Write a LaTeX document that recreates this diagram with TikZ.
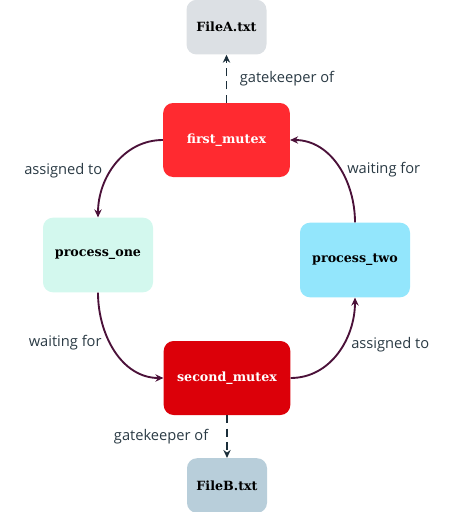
\documentclass[tikz,border=0pt]{standalone}
\usepackage{fontspec}
\setmainfont{Open Sans}
\newfontfamily\slabfont{DejaVu Serif}
\usetikzlibrary{arrows.meta, positioning}
\definecolor{mutexred}{HTML}{FF2A30}
\definecolor{mutexdark}{HTML}{DC0009}
\definecolor{procmint}{HTML}{D3F8EE}
\definecolor{procsky}{HTML}{93E6FC}
\definecolor{filegray}{HTML}{DCE0E4}
\definecolor{fileblue}{HTML}{B8CEDA}
\definecolor{edgeplum}{HTML}{4B1139}
\definecolor{gateslate}{HTML}{1B2E3A}
\definecolor{labelink}{HTML}{2A3A44}
\tikzset{
  every node/.style={font=\fontsize{11}{13}\selectfont, text=labelink},
  box/.style={
    rounded corners=7.5pt, inner sep=2pt, text=black,
    font=\slabfont\bfseries\fontsize{9.5}{11}\selectfont
  },
  mutex/.style={box, minimum width=95pt, minimum height=55.5pt, text=white},
  proc/.style={box, minimum width=82.5pt, minimum height=56pt},
  file/.style={box, minimum width=60pt, minimum height=41pt},
  arr/.style={-{Stealth[length=6pt,width=5.5pt]}, line width=1.4pt, edgeplum},
  gate/.style={-{Stealth[length=6pt,width=5.5pt]}, line width=1.4pt, gateslate,
    dash pattern=on 6pt off 4pt},
}

\begin{document}
\begin{tikzpicture}[x=0.75pt, y=0.75pt]
        \useasboundingbox (0,0) rectangle (454,-512);
        % nodes
        \node[mutex, fill=mutexred] (first) at (226.5,-140) {first\_mutex};
        \node[mutex, fill=mutexdark] (second) at (227,-378) {second\_mutex};
        \node[proc, fill=procmint] (one) at (98,-255) {process\_one};
        \node[proc, fill=procsky] (two) at (355,-260) {process\_two};
        \node[file, fill=filegray, above=36pt of first] (fileA) {FileA.txt};
        \node[file, fill=fileblue, below=32pt of second] (fileB) {FileB.txt};
        % arrows
        \draw[arr] (first.west) to[out=180,in=90] node[midway,left=6pt,yshift=-5pt] {assigned to} (one.north);
        \draw[arr] (one.south) to[out=270,in=180] node[midway,left=6pt,yshift=6pt] {waiting for} (second.west);
        \draw[arr] (second.east) to[out=0,in=270] node[midway,right=6pt,yshift=6pt] {assigned to} (two.south);
        \draw[arr] (two.north) to[out=90,in=0] node[midway,right=3pt,yshift=-3pt] {waiting for} (first.east);
        \draw[gate] (first.north) -- node[midway,right=6pt] {gatekeeper of} (fileA.south);
        \draw[gate] (second.south) -- node[midway,left=10pt] {gatekeeper of} (fileB.north);
\end{tikzpicture}
\end{document}
